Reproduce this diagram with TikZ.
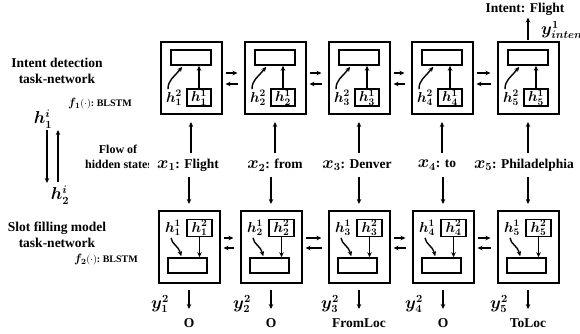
\documentclass[tikz,border=0pt]{standalone}
\usepackage{fontspec}
\setmainfont{Liberation Serif}
\usepackage{bm}
\usetikzlibrary{arrows.meta,calc}
\newcommand{\mm}[1]{{\fontsize{16}{16}\selectfont$\bm{#1}$}}
\newcommand{\mh}[1]{{\fontsize{14.5}{14.5}\selectfont$\bm{#1}$}}
\newcommand{\ms}[1]{{\fontsize{12}{12}\selectfont$\bm{#1}$}}
\begin{document}
\begin{tikzpicture}[x=1pt,y=-1pt,
  arr/.style={line width=1.4pt,-{Stealth[length=5pt,width=4.5pt]}},
  bigbox/.style={draw,line width=2pt,minimum width=61pt,minimum height=72pt,inner sep=0pt},
  rectbox/.style={draw,line width=1.6pt,minimum width=40pt,minimum height=15pt,inner sep=0pt},
  hbox/.style={draw,line width=1.6pt,minimum width=24pt,minimum height=17pt,inner sep=0pt},
  txt/.style={font=\fontsize{13.5}{16}\selectfont\bfseries,inner sep=1pt},
  smalltxt/.style={font=\fontsize{10}{12}\selectfont\bfseries,inner sep=1pt},
  midtxt/.style={font=\fontsize{12}{14}\selectfont\bfseries,inner sep=1pt,align=center}]
\useasboundingbox (0,0) rectangle (580,333);

% left texts
\node[txt,align=center] (idt) at (57,71) {Intent detection\\task-network};
\node[smalltxt] (f1) at (100,104) {\ms{f_1}$(\cdot)$:\ BLSTM};
\node[txt] (hi1) at (43,119) {\mm{h^i_1}};
\node[txt] (hi2) at (60,195) {\mm{h^i_2}};
\coordinate (da1) at (47,130);
\coordinate (da2) at (47,183);
\coordinate (ua1) at (58,182);
\coordinate (ua2) at (58,130);
\draw[arr] (da1) -- (da2);
\draw[arr] (ua1) -- (ua2);
\node[midtxt] (flow) at (118,149) {Flow of};
\begin{scope}
\clip (60,155) rectangle (148,175);
\node[midtxt,anchor=west] (hid) at (84,164) {hidden states};
\end{scope}
\node[txt,align=center] (sft) at (57,235) {Slot filling model\\task-network};
\node[smalltxt] (f2) at (106,260) {\ms{f_2}$(\cdot)$:\ BLSTM};

% top row
\foreach \i/\cx/\lx/\w in {1/191/188/Flight,2/275/275/from,3/359/357/Denver,4/442/437/to,5/528/524/Philadelphia}{
  \node[bigbox] (T\i) at (\cx,77.5) {};
  \node[rectbox] (TR\i) at (\cx,57.5) {};
  \node[hbox,txt] (TH\i) at (\cx+8,97.5) {\mh{h^1_{\i}}};
  \node[txt,inner sep=0pt] (TL\i) at (\cx-17,98) {\mh{h^2_{\i}}};
  \draw[arr] (TH\i.north) -- (TR\i.south -| TH\i.north);
  \draw[arr] ($(TL\i.north)+(-6,-1)$) .. controls ($(TL\i.north)+(-6,-10)$) and ($(TL\i.north)+(-1,-12)$) .. ($(TR\i.south west)+(12,1)$);
  \node[txt] (X\i) at (\lx,165) {\mm{x_{\i}}: \w};
  \draw[arr] ($(T\i.south)+(0,38.5)$) -- ($(T\i.south)+(0,7.5)$);
}
\foreach \a/\b in {1/2,2/3,3/4,4/5}{
  \draw[arr] ($(T\a.east)+(3,-4.5)$) -- ($(T\b.west)+(-6,-4.5)$);
  \draw[arr] ($(T\b.west)+(-6,6.5)$) -- ($(T\a.east)+(3,6.5)$);
}
\draw[arr] ($(T5.north)+(0,-1)$) -- ($(T5.north)+(0,-23)$);
\node[txt] (intent) at (525,9) {Intent: Flight};
\node[txt,anchor=west] (yint) at (540,30) {\mm{y^1_{intent}}};

% bottom row
\foreach \i/\cx/\o in {1/189/O,2/271/O,3/359/FromLoc,4/443/O,5/528/ToLoc}{
  \node[bigbox] (B\i) at (\cx,247) {};
  \node[rectbox,minimum width=39pt] (BR\i) at (\cx-1.5,265.5) {};
  \node[hbox,txt,minimum width=25pt,minimum height=16pt] (BH\i) at (\cx+10.5,228) {\mh{h^2_{\i}}};
  \node[txt,inner sep=0pt] (BL\i) at (\cx-16,228) {\mh{h^1_{\i}}};
  \draw[arr] (BH\i.south) -- (BR\i.north -| BH\i.south);
  \draw[arr] ($(BL\i.south)+(-2,2)$) .. controls ($(BL\i.south)+(-1,9)$) and ($(BL\i.south)+(5,9)$) .. ($(BR\i.north west)+(14,-1)$);
  \draw[arr] ($(B\i.north)+(0,-33)$) -- ($(B\i.north)+(0,-6)$);
  \draw[arr] ($(B\i.south)+(0,6)$) -- ($(B\i.south)+(0,25)$);
  \node[txt] (Y\i) at (\cx-29,304) {\mm{y^2_{\i}}};
  \node[txt] (O\i) at (\cx,323) {\o};
}
\foreach \a/\b in {1/2,2/3,3/4,4/5}{
  \draw[arr] ($(B\a.east)+(3,-9)$) -- ($(B\b.west)+(-6,-9)$);
  \draw[arr] ($(B\b.west)+(-6,1)$) -- ($(B\a.east)+(3,1)$);
}
\end{tikzpicture}
\end{document}
